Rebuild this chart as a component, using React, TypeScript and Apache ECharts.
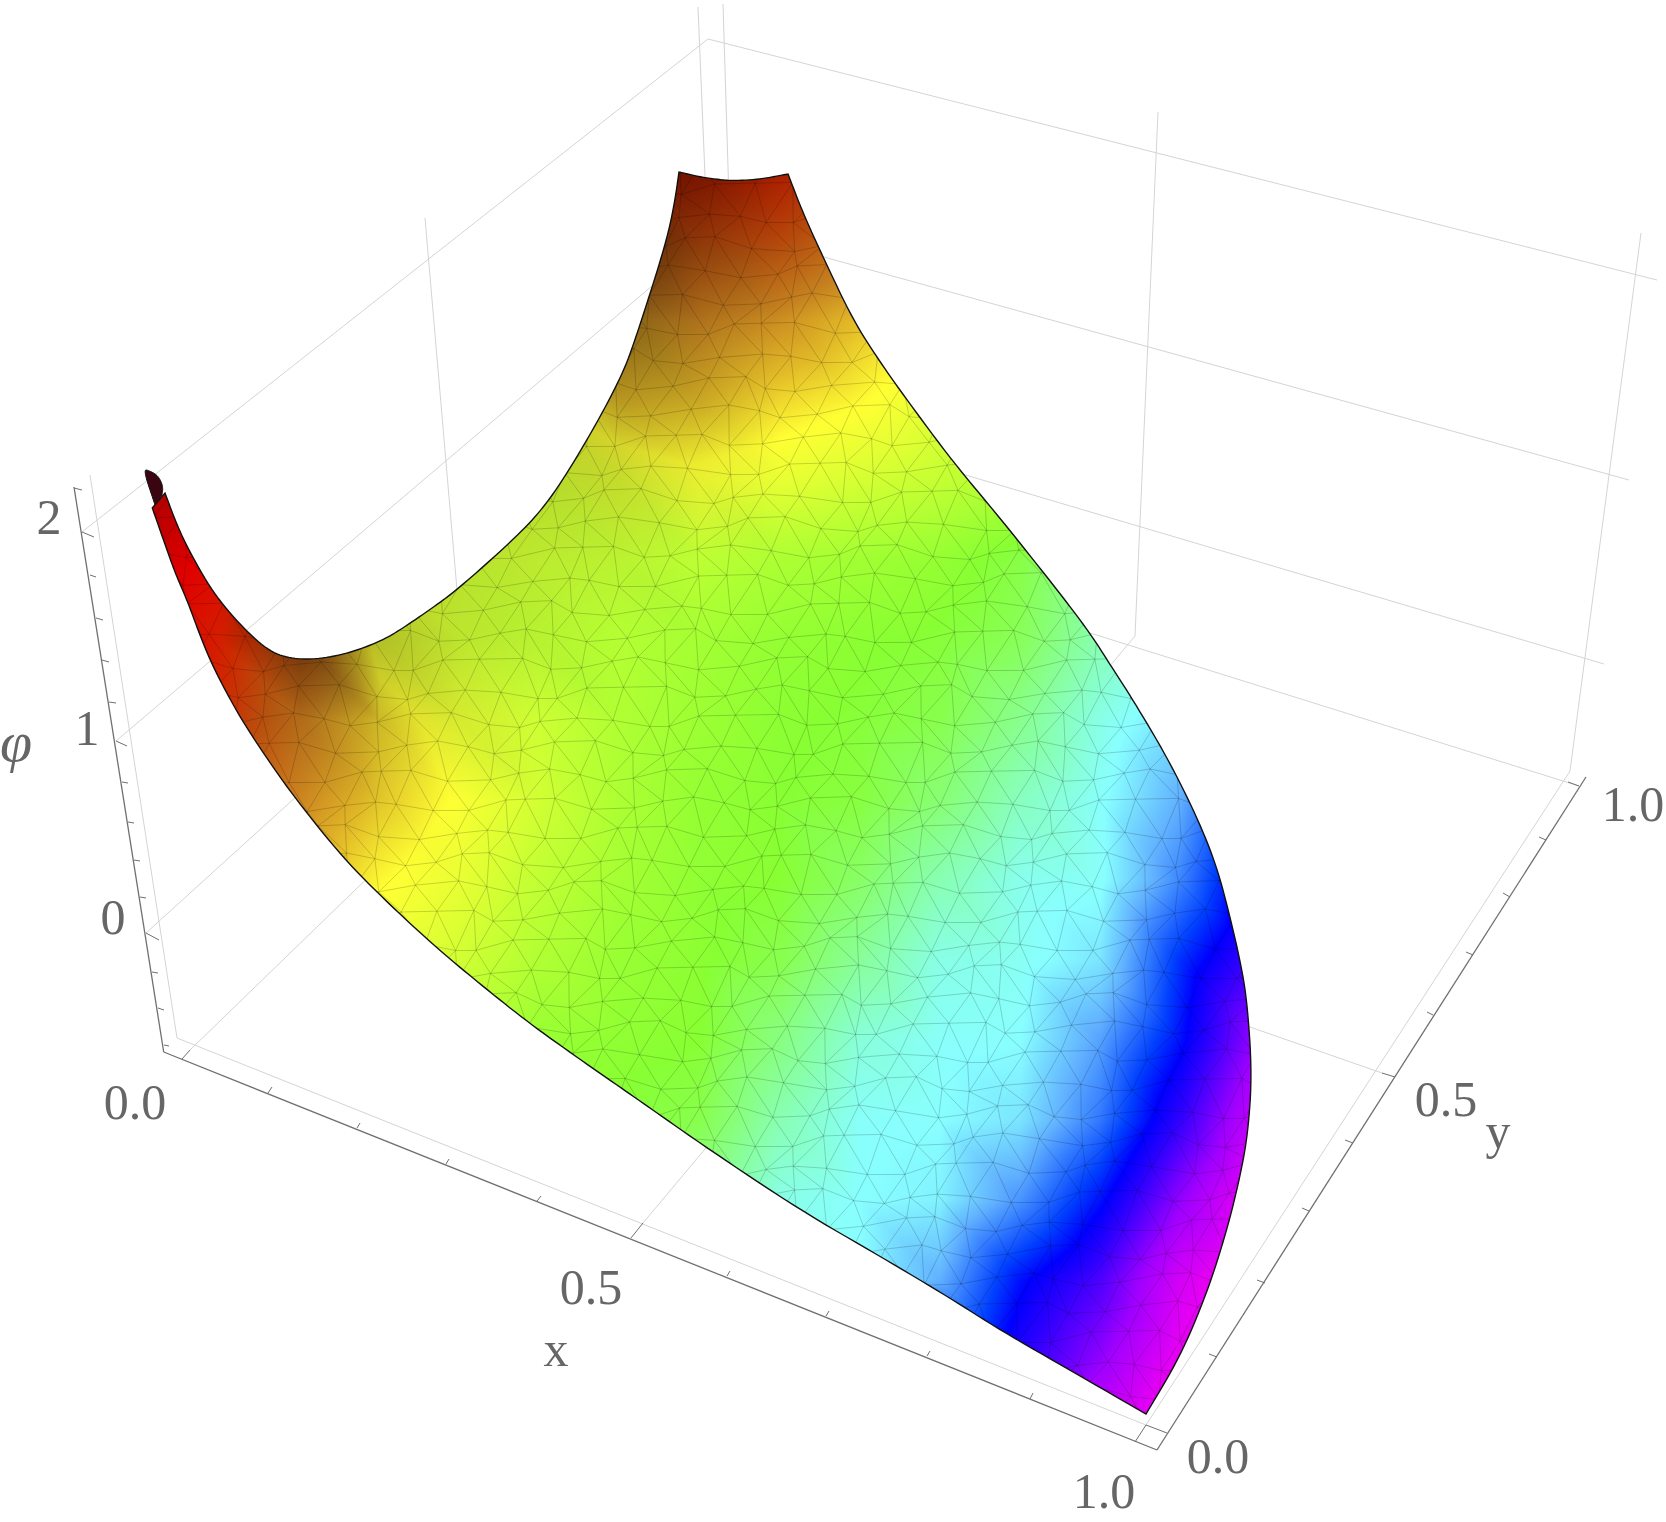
import React, { useEffect, useRef } from "react";
import * as echarts from "echarts";

const W = 1666;
const H = 1522;
const n = null;

// Picture position of each sample of the surface's colour level
const sampleCols = [140, 220, 300, 380, 460, 540, 620, 700, 780, 860, 940, 1020, 1100, 1180, 1260];
const sampleRows = [160, 240, 320, 400, 480, 560, 640, 720, 800, 880, 960, 1040, 1120, 1200, 1280, 1360, 1440];

// Colour level at every (row, col) sample
const level = [
  [n, n, n, n, n, n, 93, 93, 93, 92, n, n, n, n, n],
  [n, n, n, n, n, n, 88, 89, 89, 86, n, n, n, n, n],
  [n, n, n, n, n, 82, 82.5, 84, 83, 80, 76, n, n, n, n],
  [n, n, n, n, 74, 76, 80, 80, 78.5, 76.5, 73, 71, n, n, n],
  [100, 97, n, n, 73, 71.5, 73, 75, 73.5, 71.5, 69.5, 67, 63, n, n],
  [98, 95, 90, 74, 71, 70.5, 69.5, 68.5, 66.5, 65, 63.5, 60.5, 56, n, n],
  [98, 93, 88, 74, 71, 69, 67.5, 65.5, 63.5, 62.5, 61.5, 59, 52, 45, n],
  [96, 92, 85, 78.5, 73.5, 70.5, 67, 64.5, 62.5, 61.5, 60, 55, 48, 43, 36],
  [n, 90, 84, 79, 75.5, 71, 66.5, 63.5, 62, 61, 57, 51, 46.5, 40, 30],
  [n, 86, 81, 76.5, 73.5, 69, 65.5, 63, 62, 58, 52, 47.5, 46.5, 37, 25],
  [n, n, 76, 73, 71, 67, 64, 62.5, 60, 54, 48, 47, 44, 31, 22],
  [n, n, n, 70, 67, 64, 63, 62, 56, 49, 46.5, 46, 39, 29, 16],
  [n, n, n, n, n, 62, 61.5, 60, 52, 46.5, 46, 44, 36, 24, 11],
  [n, n, n, n, n, n, 60, 55, 48, 46, 45, 38, 29, 17, 6],
  [n, n, n, n, n, n, n, n, 46, 46, 40, 29, 22, 10, 3],
  [n, n, n, n, n, n, n, n, n, 38, 28, 25, 17, 7, 2],
  [n, n, n, n, n, n, n, n, n, n, n, 22, 10, 2, n],
];

// Darkening (x, y, amount) seen where the surface turns away from the light
const shadeSamples = [
  [620, 160, 0.6], [700, 160, 0.45], [780, 160, 0.2], [860, 160, 0.1],
  [620, 240, 0.6], [700, 240, 0.28], [780, 240, 0.08],
  [540, 320, 0.4], [620, 320, 0.38], [700, 320, 0.15], [780, 320, 0.03],
  [540, 400, 0.22], [620, 400, 0.2], [700, 400, 0.12],
  [460, 480, 0.2], [540, 480, 0.15], [620, 480, 0.14], [700, 480, 0.06],
  [300, 560, 0.5], [380, 560, 0.2], [460, 560, 0.12], [540, 560, 0.08], [620, 560, 0.05],
  [300, 640, 0.45], [380, 640, 0.25], [460, 640, 0.1], [540, 640, 0.05],
  [300, 720, 0.12], [380, 720, 0.14], [460, 720, 0.08], [380, 800, 0.04],
];

const levelStops: [number, string][] = [
  [0, "#cc00c4"], [8, "#e400f4"], [16, "#a000ff"], [24, "#3000ff"], [28, "#0000ff"],
  [32, "#0040ff"], [40, "#60b0ff"], [46, "#88ffff"], [54, "#88ff99"], [62, "#88ff33"],
  [70, "#c8ff33"], [76, "#ffff33"], [80, "#e4bc28"], [84, "#cc8420"], [88, "#c25810"],
  [92, "#d02800"], [96, "#e00000"], [100, "#a00000"],
];

// Sides of the surface, in picture units
const upperArc = [
  [165, 493], [175, 520], [187, 547], [213, 593], [243, 628], [270, 652], [293, 659], [320, 659],
  [353, 652], [383, 640], [400, 630], [428, 611], [457, 590], [513, 540], [540, 512], [563, 480], [597, 423],
  [623, 373], [635, 340], [648, 300], [660, 262], [669, 230], [675, 200], [679, 172],
];
const topArc = [[679, 172], [705, 178], [733, 181], [762, 179], [788, 174]];
const rightEdge = [
  [788, 174], [803, 213], [823, 257], [853, 320], [880, 362], [907, 400], [953, 462], [1000, 518],
  [1055, 587], [1090, 633], [1111, 666], [1133, 700], [1167, 757], [1197, 817], [1217, 867], [1230, 917],
  [1240, 960], [1247, 1000], [1252, 1073], [1248, 1133], [1240, 1177], [1227, 1230], [1207, 1293], [1180, 1357],
  [1146, 1414],
];
const lowerEdge = [
  [1146, 1414], [1075, 1373], [1000, 1330], [950, 1298], [883, 1258], [800, 1210], [707, 1148], [650, 1108],
  [627, 1092], [578, 1058], [529, 1023], [485, 988], [439, 950], [390, 905], [343, 858], [295, 798], [268, 760],
  [243, 722], [225, 690], [210, 660], [198, 630], [187, 600], [176, 575], [167, 550], [160, 530], [152.3, 508],
];
const tipOutline = [[155, 505], [143, 469], [150, 471], [157, 475], [161, 481], [163, 488], [162, 495]];

// Faint box and grid lines: x1, y1, x2, y2
const gridLines = [
  [82, 532, 708, 39], [708, 39, 1657, 280],
  [116, 741, 712, 235], [1629, 480, 712, 226],
  [146, 933, 600, 521], [1604, 664, 800, 426],
  [90, 475, 177, 1038], [425, 218, 457, 590], [698, 7, 706, 200],
  [723, 4, 729, 200], [1158, 112, 1135, 636], [1641, 233, 1570, 771],
  [177, 1038, 1146, 1425], [1146, 1425, 1570, 771],
  [1579, 786, 1090, 633], [643, 1223, 1135, 636],
  [1382, 1073, 1000, 940], [190, 1050, 480, 769],
];

// Axis lines: x1, y1, x2, y2
const axisLines = [
  [163.7, 1052, 1157, 1450],
  [1157, 1450, 1586, 777],
  [74, 487, 163.7, 1052],
];
const xTicks = [
  [182, 1059, 190, 1050], [268, 1093, 272, 1087], [357, 1128, 360, 1123], [446, 1164, 449, 1159],
  [537, 1201, 541, 1196], [631, 1238, 643, 1223], [727, 1276, 730, 1271], [826, 1316, 829, 1311],
  [927, 1356, 930, 1351], [1030, 1399, 1033, 1393], [1135, 1442, 1146, 1425],
];
const yTicks = [
  [1167, 1433, 1146, 1425], [1217, 1357, 1209, 1354], [1265, 1283, 1257, 1280], [1309, 1211, 1302, 1208],
  [1353, 1143, 1345, 1140], [1395, 1077, 1382, 1073], [1433, 1015, 1427, 1012], [1473, 955, 1466, 952],
  [1510, 897, 1503, 893], [1546, 840, 1539, 837], [1579, 786, 1568, 782],
];
const phiTicks = [
  [74, 488, 82, 490], [82, 532, 94, 537], [90, 575, 96, 577], [96, 618, 103, 620], [102, 660, 109, 662],
  [109, 702, 116, 703], [116, 741, 127, 746], [122, 782, 128, 783], [128, 822, 134, 823], [134, 860, 140, 861],
  [140, 897, 146, 898], [146, 933, 159, 940], [152, 972, 158, 973], [158, 1008, 164, 1010], [164, 1045, 169, 1046],
];

// Tick and axis labels: x, y, text
const tickLabels: [number, number, string][] = [
  [135, 1102, "0.0"], [591, 1287, "0.5"], [1104, 1491, "1.0"],
  [1218, 1456, "0.0"], [1446, 1099, "0.5"], [1633, 804, "1.0"],
  [49, 517, "2"], [87, 728, "1"], [113, 917, "0"],
];
const axisTitles: [number, number, string, string, number][] = [
  [556, 1349, "x", "normal", 50], [1498, 1131, "y", "normal", 50], [16, 741, "φ", "italic", 58],
];

// Small offsets that make the drawn mesh lines irregular
const meshOffsetsA = [0.31, -0.42, 0.12, 0.48, -0.27, -0.05, 0.38, -0.49, 0.2, -0.14, 0.44, -0.33, 0.07, -0.22, 0.27, -0.4, 0.16];
const meshOffsetsB = [-0.18, 0.36, -0.46, 0.09, 0.41, -0.3, 0.24, -0.08, -0.38, 0.47, 0.02, -0.25, 0.33, -0.44, 0.14, 0.29, -0.12, 0.4, -0.35];

const hexToRgb = (h: string) => [parseInt(h.slice(1, 3), 16), parseInt(h.slice(3, 5), 16), parseInt(h.slice(5, 7), 16)];
function colourAt(v: number) {
  const s = levelStops;
  if (v <= s[0][0]) return s[0][1];
  for (let i = 1; i < s.length; i++) {
    if (v <= s[i][0]) {
      const k = (v - s[i - 1][0]) / (s[i][0] - s[i - 1][0]);
      const a = hexToRgb(s[i - 1][1]);
      const b = hexToRgb(s[i][1]);
      return `rgb(${a.map((c, j) => Math.round(c + (b[j] - c) * k)).join(",")})`;
    }
  }
  return s[s.length - 1][1];
}

type P = [number, number];
function triangleGradient(ps: P[], vs: number[], stopsFor: (lo: number, hi: number) => { offset: number; color: string }[]) {
  const [A, B, C] = ps;
  const det = (B[0] - A[0]) * (C[1] - A[1]) - (C[0] - A[0]) * (B[1] - A[1]);
  const gx = ((vs[1] - vs[0]) * (C[1] - A[1]) - (vs[2] - vs[0]) * (B[1] - A[1])) / det;
  const gy = ((vs[2] - vs[0]) * (B[0] - A[0]) - (vs[1] - vs[0]) * (C[0] - A[0])) / det;
  const lo = Math.min(...vs);
  const hi = Math.max(...vs);
  const g2 = gx * gx + gy * gy;
  if (hi - lo < 1e-6 || g2 < 1e-12) return null;
  const p0 = ps[vs.indexOf(lo)];
  const x2 = p0[0] + (gx * (hi - lo)) / g2;
  const y2 = p0[1] + (gy * (hi - lo)) / g2;
  return new echarts.graphic.LinearGradient(p0[0], p0[1], x2, y2, stopsFor(lo, hi), true);
}
const levelGradientStops = (lo: number, hi: number) => {
  const out = [{ offset: 0, color: colourAt(lo) }];
  levelStops.forEach(([v]) => {
    if (v > lo && v < hi) out.push({ offset: (v - lo) / (hi - lo), color: colourAt(v) });
  });
  out.push({ offset: 1, color: colourAt(hi) });
  return out;
};

function shadeAt(r: number, c: number) {
  const hit = shadeSamples.find((s) => s[0] === sampleCols[c] && s[1] === sampleRows[r]);
  return hit ? hit[2] : 0;
}

// Rounds the corners of a traced side, keeping its two ends
function rounded(side: number[][]) {
  let pts = side;
  for (let it = 0; it < 3; it++) {
    const next: number[][] = [pts[0]];
    for (let i = 0; i + 1 < pts.length; i++) {
      const [a, b] = [pts[i], pts[i + 1]];
      next.push([a[0] * 0.75 + b[0] * 0.25, a[1] * 0.75 + b[1] * 0.25]);
      next.push([a[0] * 0.25 + b[0] * 0.75, a[1] * 0.25 + b[1] * 0.75]);
    }
    next.push(pts[pts.length - 1]);
    pts = next;
  }
  return pts;
}

function lineSeries(rows: number[][], stroke: string, lineWidth: number) {
  return {
    type: "custom",
    coordinateSystem: "cartesian2d",
    clip: false,
    silent: true,
    encode: { x: [0, 2], y: [1, 3] },
    data: rows,
    renderItem: (_: any, api: any) => {
      const a = api.coord([api.value(0), api.value(1)]);
      const b = api.coord([api.value(2), api.value(3)]);
      return { type: "line", shape: { x1: a[0], y1: a[1], x2: b[0], y2: b[1] }, style: { stroke, lineWidth, fill: null } };
    },
  };
}

function renderSurface(_: any, api: any) {
  const at = (r: number, c: number) => api.coord([sampleCols[c], sampleRows[r]]) as P;
  const children: any[] = [];
  const overlays: any[] = [];
  const addTri = (cells: [number, number][]) => {
    const ps = cells.map(([r, c]) => at(r, c));
    const vs = cells.map(([r, c]) => level[r][c] as number);
    const grad = triangleGradient(ps, vs, levelGradientStops);
    const fill = grad || colourAt(vs[0]);
    children.push({ type: "polygon", shape: { points: ps }, style: { fill, stroke: fill, lineWidth: 1 } });
    const ss = cells.map(([r, c]) => shadeAt(r, c));
    if (Math.max(...ss) > 0) {
      const sg = triangleGradient(ps, ss, (lo, hi) => [
        { offset: 0, color: `rgba(0,0,0,${lo})` },
        { offset: 1, color: `rgba(0,0,0,${hi})` },
      ]);
      overlays.push({ type: "polygon", shape: { points: ps }, style: { fill: sg || `rgba(0,0,0,${ss[0]})` } });
    }
  };
  for (let r = 0; r + 1 < sampleRows.length; r++) {
    for (let c = 0; c + 1 < sampleCols.length; c++) {
      const ok = [level[r][c], level[r][c + 1], level[r + 1][c], level[r + 1][c + 1]].every((v) => v !== null);
      if (!ok) continue;
      addTri([[r, c], [r, c + 1], [r + 1, c + 1]]);
      addTri([[r, c], [r + 1, c + 1], [r + 1, c]]);
    }
  }
  // Mesh lines over the surface
  const meshRows = 47;
  const meshCols = 37;
  const stepY = 28;
  const stepX = 32;
  const vertex = (r: number, c: number): P => {
    const ox = meshOffsetsA[(r * 7 + c * 11) % meshOffsetsA.length] * 18;
    const oy = meshOffsetsB[(r * 5 + c * 13) % meshOffsetsB.length] * 16;
    return api.coord([130 + c * stepX + (r % 2 ? stepX / 2 : 0) + ox, 160 + r * stepY + oy]);
  };
  const mesh: any[] = [];
  const meshStyle = { stroke: "rgba(0,0,0,0.22)", lineWidth: 0.8, fill: null };
  for (let r = 0; r < meshRows; r++) {
    const pts: P[] = [];
    for (let c = 0; c < meshCols; c++) pts.push(vertex(r, c));
    mesh.push({ type: "polyline", shape: { points: pts }, style: meshStyle });
  }
  for (let c = -meshRows; c < meshCols + meshRows; c++) {
    const down: P[] = [];
    const up: P[] = [];
    for (let r = 0; r < meshRows; r++) {
      const cd = c + Math.floor(r / 2);
      if (cd >= 0 && cd < meshCols) down.push(vertex(r, cd));
      const cu = c - Math.ceil(r / 2);
      if (cu >= 0 && cu < meshCols) up.push(vertex(r, cu));
    }
    if (down.length > 1) mesh.push({ type: "polyline", shape: { points: down }, style: meshStyle });
    if (up.length > 1) mesh.push({ type: "polyline", shape: { points: up }, style: meshStyle });
  }
  const traced = [...rounded(upperArc), ...rounded(topArc), ...rounded(rightEdge), ...rounded(lowerEdge)];
  const outline = traced.map((p) => api.coord(p) as P);
  const tip = rounded(tipOutline).map((p) => api.coord(p) as P);
  return {
    type: "group",
    children: [
      { type: "group", clipPath: { type: "polygon", shape: { points: outline } }, children: [...children, ...overlays, ...mesh] },
      { type: "polygon", shape: { points: outline }, style: { fill: null, stroke: "#111", lineWidth: 1.4 } },
      { type: "polygon", shape: { points: tip }, style: { fill: "#3a0410", stroke: "#111", lineWidth: 1 } },
    ],
  };
}

function textSeries(rows: any[], withStyle: boolean) {
  return {
    type: "custom",
    coordinateSystem: "cartesian2d",
    clip: false,
    silent: true,
    encode: { x: 0, y: 1 },
    data: rows,
    renderItem: (p: any, api: any) => {
      const row = rows[p.dataIndex];
      const c = api.coord([row[0], row[1]]);
      return {
        type: "text",
        x: c[0],
        y: c[1],
        style: {
          text: row[2],
          fill: "#666666",
          font: `${withStyle ? row[3] : "normal"} ${withStyle ? row[4] : 50}px "Liberation Serif"`,
          align: "center",
          verticalAlign: "middle",
        },
      };
    },
  };
}

export default function App() {
  const ref = useRef<HTMLDivElement>(null);
  useEffect(() => {
    const chart = echarts.init(ref.current!, undefined, { renderer: "svg" });
    chart.setOption({
      animation: false,
      backgroundColor: "#ffffff",
      grid: { left: 0, right: 0, top: 0, bottom: 0 },
      xAxis: { type: "value", min: 0, max: W, show: false },
      yAxis: { type: "value", min: 0, max: H, inverse: true, show: false },
      series: [
        lineSeries(gridLines, "#d4d4d4", 1),
        lineSeries(axisLines, "#707070", 1.3),
        lineSeries(xTicks, "#707070", 1),
        lineSeries(yTicks, "#707070", 1),
        lineSeries(phiTicks, "#707070", 1),
        { type: "custom", coordinateSystem: "cartesian2d", clip: false, silent: true, data: [[0, 0]], renderItem: renderSurface },
        textSeries(tickLabels, false),
        textSeries(axisTitles, true),
      ],
    });
    return () => chart.dispose();
  }, []);
  return <div ref={ref} style={{ position: "fixed", left: 0, top: 0, width: W, height: H }} />;
}
